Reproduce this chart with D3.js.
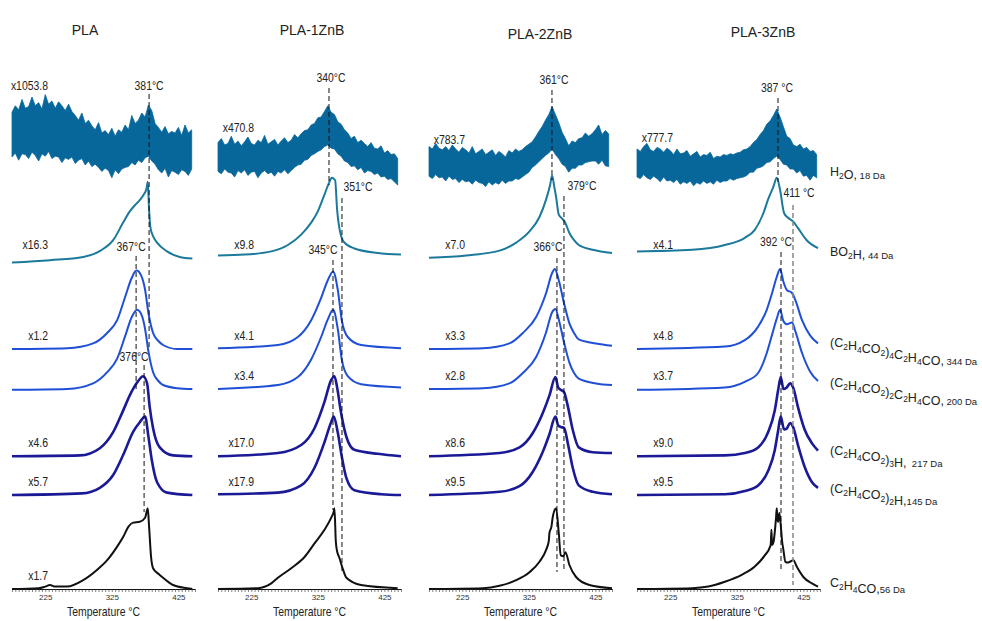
<!DOCTYPE html>
<html>
<head>
<meta charset="utf-8">
<script src="https://cdn.jsdelivr.net/npm/d3@7/dist/d3.min.js"></script>
<style>
body { margin: 0; background: #fff; }
svg { display: block; font-family: "Liberation Sans", Arial, sans-serif; }
</style>
</head>
<body>
<div class="chart"></div>
<script>
// ---- data ----
const panelNames = ["PLA", "PLA-1ZnB", "PLA-2ZnB", "PLA-3ZnB"];

// H2O is a noisy trace: min / max envelope (in % of peak height) on a 5 °C grid
const tempGrid = [175,180,185,190,195,200,205,210,215,220,225,230,235,240,245,250,255,260,265,270,275,280,285,290,295,300,305,310,315,320,325,330,335,340,345,350,355,360,365,370,375,380,385,390,395,400,405,410,415,420,425,430,435,440,445];
const h2oTop = [
  [96,104,99,112,101,103,115,104,108,100,118,106,110,101,109,104,98,106,97,92,86,95,82,86,79,74,83,70,73,68,76,66,74,71,80,74,92,82,86,95,90,105,98,82,77,71,78,69,72,70,77,67,80,70,74],
  [58,63,55,57,66,56,60,54,59,65,57,55,61,58,67,56,59,62,55,60,64,58,61,68,64,69,73,74,80,82,89,90,97,104,96,93,84,81,74,70,63,66,58,61,57,53,58,51,50,54,45,48,43,44,38],
  [53,50,57,51,49,53,48,55,50,46,52,49,45,53,44,47,50,43,46,49,42,47,44,40,48,45,50,47,49,53,56,59,65,72,78,86,93,103,93,83,71,63,54,60,58,63,64,70,66,69,74,80,68,73,69],
  [50,47,53,57,49,47,52,50,46,51,48,43,50,44,45,48,41,44,47,40,43,42,46,38,41,40,43,42,44,43,45,46,49,50,53,58,62,68,73,81,85,92,100,90,78,66,63,55,53,56,50,52,47,48,43]
];
const h2oBottom = [
  [40,45,36,44,43,38,46,42,35,44,41,47,38,41,40,33,39,37,40,32,36,38,30,35,28,31,27,22,26,23,14,24,19,25,27,28,33,30,36,33,39,41,35,31,24,20,26,15,23,21,18,24,22,17,25],
  [22,19,25,21,20,15,23,20,24,17,21,22,14,20,23,19,21,16,22,20,24,19,23,27,30,31,36,37,42,44,47,49,53,55,51,50,44,41,35,33,28,29,24,27,20,23,22,18,20,15,16,12,13,9,5],
  [16,13,18,14,15,10,16,12,13,8,12,9,10,6,11,8,7,3,9,5,8,6,11,7,10,10,13,12,15,18,21,27,30,34,38,42,45,50,43,38,31,28,21,26,26,30,30,33,34,35,35,31,36,29,28],
  [15,13,18,14,12,16,13,9,15,10,11,8,12,6,9,7,10,4,8,6,10,7,9,6,11,8,10,10,13,11,13,14,15,17,21,21,26,27,29,33,34,38,41,37,31,30,25,25,20,23,16,17,11,17,14]
];

// smooth traces: [temperature °C, normalised intensity]
const bo2h = [
  [[175,-0.06],[232,-0.03],[282,0.01],[308,0.09],[327,0.22],[342,0.44],[352,0.58],[360,0.66],[367,0.72],[373,0.79],[377,0.86],[379,0.95],[381,0.6],[383,0.38],[387,0.27],[393,0.19],[408,0.08],[427,0.01],[446,-0.01]],
  [[175,0.03],[215,0.04],[255,0.08],[280,0.16],[300,0.29],[315,0.44],[325,0.58],[335,0.79],[342,0.94],[346,1.0],[351,0.97],[354,0.6],[357,0.39],[364,0.2],[379,0.12],[415,0.06],[450,0.04]],
  [[175,0],[231,0.03],[281,0.09],[306,0.19],[326,0.33],[341,0.51],[351,0.73],[357,0.91],[360,1.03],[363,0.9],[366,0.76],[370,0.54],[374,0.5],[379,0.45],[386,0.31],[393,0.22],[400,0.16],[421,0.1],[450,0.06]],
  [[175,0.08],[258,0.1],[307,0.16],[337,0.25],[352,0.35],[365,0.56],[372,0.73],[380,0.89],[385,1.0],[390,0.85],[396,0.56],[402,0.5],[410,0.45],[417,0.37],[430,0.22],[447,0.12]]
];
const m344 = [
  [[175,0],[258,0.01],[297,0.07],[318,0.2],[333,0.36],[345,0.65],[355,0.89],[362,0.98],[369,0.92],[375,0.74],[380,0.45],[387,0.2],[395,0.1],[402,0.05],[423,0],[446,0]],
  [[175,0.01],[265,0.05],[295,0.15],[315,0.36],[330,0.64],[340,0.86],[348,0.97],[355,0.74],[361,0.36],[370,0.15],[390,0.05],[450,0.01]],
  [[175,0],[256,0.01],[296,0.07],[316,0.2],[336,0.4],[351,0.7],[360,0.95],[364,1.0],[370,0.86],[378,0.57],[386,0.32],[393,0.2],[400,0.12],[426,0.07],[450,0.04]],
  [[175,0],[307,0.03],[337,0.11],[357,0.28],[370,0.49],[378,0.7],[385,0.9],[390,1.0],[395,0.84],[400,0.74],[408,0.7],[413,0.61],[423,0.36],[435,0.17],[447,0.07]]
];
const m200 = [
  [[175,-0.01],[258,0],[297,0.07],[318,0.21],[333,0.38],[345,0.66],[355,0.9],[363,0.99],[370,0.92],[375,0.75],[380,0.47],[387,0.21],[395,0.1],[402,0.05],[423,0.01],[446,0]],
  [[175,0],[265,0.05],[295,0.15],[315,0.37],[330,0.65],[340,0.87],[348,0.99],[355,0.75],[361,0.37],[370,0.16],[390,0.06],[450,0.02]],
  [[175,0],[256,0.01],[296,0.07],[316,0.2],[336,0.4],[351,0.71],[360,0.96],[365,1.0],[370,0.87],[378,0.58],[386,0.33],[393,0.2],[400,0.13],[426,0.07],[450,0.05]],
  [[175,-0.01],[307,0.02],[337,0.09],[357,0.2],[370,0.45],[378,0.68],[385,0.88],[390,0.99],[395,0.85],[400,0.81],[408,0.83],[413,0.72],[423,0.45],[435,0.22],[447,0.1]]
];
const m217 = [
  [[175,0],[277,0.01],[307,0.1],[327,0.3],[342,0.57],[352,0.76],[363,0.92],[372,1.0],[378,0.91],[382,0.61],[387,0.35],[397,0.11],[417,0.01],[446,0]],
  [[175,0],[265,0.04],[300,0.14],[320,0.35],[335,0.68],[345,0.95],[350,1.0],[354,0.86],[360,0.54],[368,0.24],[380,0.08],[415,0.03],[450,0]],
  [[175,0],[281,0.04],[311,0.11],[331,0.29],[346,0.54],[356,0.76],[365,0.99],[369,0.86],[373,0.83],[378,0.8],[384,0.61],[391,0.33],[400,0.11],[421,0.05],[450,0.04]],
  [[175,0],[307,0.01],[337,0.04],[357,0.11],[372,0.3],[382,0.57],[387,0.82],[391,0.99],[395,0.84],[400,0.86],[405,0.91],[410,0.85],[417,0.61],[427,0.33],[438,0.16],[447,0.07]]
];
const m145 = [
  [[175,0],[280,0.02],[307,0.09],[327,0.25],[342,0.5],[357,0.79],[367,0.91],[375,0.98],[380,0.73],[385,0.44],[393,0.16],[408,0.03],[446,0]],
  [[175,0.01],[265,0.03],[300,0.12],[320,0.34],[335,0.66],[345,0.91],[349,0.98],[355,0.78],[361,0.48],[368,0.21],[380,0.06],[420,0.01],[450,0]],
  [[175,0],[281,0.04],[311,0.11],[331,0.29],[346,0.54],[356,0.76],[365,0.98],[369,0.87],[373,0.85],[378,0.84],[384,0.63],[391,0.34],[400,0.12],[421,0.04],[450,0.01]],
  [[175,0],[307,0.01],[337,0.05],[357,0.12],[372,0.3],[382,0.56],[387,0.8],[391,0.98],[396,0.82],[400,0.83],[405,0.9],[410,0.84],[417,0.62],[427,0.35],[438,0.16],[447,0.09]]
];
const m56 = [
  [[175,0],[215,0.01],[225,0.03],[232,0.05],[240,0.03],[258,0.03],[282,0.11],[303,0.24],[318,0.36],[333,0.53],[342,0.65],[350,0.78],[357,0.83],[367,0.84],[375,0.89],[379,1.01],[381,0.78],[384,0.4],[387,0.26],[395,0.19],[402,0.14],[417,0.05],[438,0.01],[446,0]],
  [[175,0],[235,0.01],[255,0.07],[265,0.14],[285,0.26],[305,0.4],[320,0.57],[335,0.74],[345,0.89],[349,0.97],[350,1.01],[352,0.6],[354,0.47],[357,0.4],[363,0.24],[368,0.14],[390,0.05],[445,0.01]],
  [[175,0],[256,0.01],[281,0.04],[306,0.11],[326,0.21],[341,0.34],[351,0.49],[355,0.6],[356,0.7],[359,0.78],[361,0.9],[366,1.01],[370,0.7],[373,0.42],[377,0.41],[380,0.46],[386,0.3],[396,0.15],[416,0.05],[450,0.01]],
  [[175,0],[258,0.01],[282,0.03],[307,0.09],[333,0.18],[352,0.28],[367,0.42],[375,0.53],[376,0.56],[377,0.74],[378,0.55],[380,0.58],[383,0.8],[384,0.9],[385,1.01],[386,0.88],[387,0.84],[389,0.95],[391,0.8],[393,0.6],[395,0.49],[398,0.34],[402,0.33],[407,0.35],[410,0.36],[415,0.28],[425,0.15],[438,0.07],[447,0.03]]
];

// scaling factors written beside each trace
const multH2O = ["x1053.8", "x470.8", "x783.7", "x777.7"];
const multBO2H = ["x16.3", "x9.8", "x7.0", "x4.1"];
const mult344 = ["x1.2", "x4.1", "x3.3", "x4.8"];
const mult200 = ["", "x3.4", "x2.8", "x3.7"];
const mult217 = ["x4.6", "x17.0", "x8.6", "x9.0"];
const mult145 = ["x5.7", "x17.9", "x9.5", "x9.5"];
const mult56 = ["x1.7", "", "", ""];

// peak markers (position on the temperature axis, printed label)
const peakT = [[381, 361.5, 373.5], [341.8, 361.3, 347.8], [359.8, 377.8, 367.3], [386.9, 409.4, 391.4]];
const peakLabel = [["381°C", "367°C", "376°C"], ["340°C", "351°C", "345°C"], ["361°C", "379°C", "366°C"], ["387 °C", "411 °C", "392 °C"]];

const speciesName = ["H{2}O,", "BO{2}H,", "(C{2}H{4}CO{2}){4}C{2}H{4}CO,", "(C{2}H{4}CO{2}){2}C{2}H{4}CO,", "(C{2}H{4}CO{2}){3}H,", "(C{2}H{4}CO{2}){2}H,", "C{2}H{4}CO,"];
const speciesMass = [" 18 Da", " 44 Da", " 344 Da", " 200 Da", "  217 Da", "145 Da", "56 Da"];

const tickTemps = [225, 325, 425];

// ---- layout ----
const W = 982, H = 621;
const panelLeft = [12, 218, 429, 637], panelW = 183;
const baseY = 589, unit = 80;
const offsets = [5.0, 4.14, 3.0, 2.5, 1.66, 1.175, 0];
const colors = ["#07679b", "#1b7a9b", "#1f4fd6", "#1f4fd6", "#1b1a96", "#1b1a96", "#111111"];
const widths = [1, 2, 2, 2, 2.6, 2.6, 2];
const titlePos = [[85, 30], [312, 30], [540, 34], [763, 32]];
const h2oLabelY = [86, 128, 140, 138];
// label dx, label y, line top, line bottom
const markerLayout = [
  [[0, 86, 94, 350], [-5, 247, 256, 392], [-10, 357, 365, 512]],
  [[2, 78, 88, 185], [16, 187, 198, 572], [-10, 250, 260, 510]],
  [[2, 80, 90, 180], [18, 186, 196, 572], [-9, 247, 258, 572]],
  [[-1, 88, 98, 182], [6, 193, 205, 585], [-5, 242, 252, 572]]
];

const svg = d3.select(".chart").append("svg").attr("width", W).attr("height", H);
const y = d3.scaleLinear().domain([0, 7]).range([baseY, baseY - 7 * unit]);

function ctext(g, x, yy, str, size, anchor) {
  return g.append("text")
    .attr("transform", "translate(" + x + "," + yy + ") scale(0.87,1)")
    .attr("text-anchor", anchor)
    .attr("dy", "0.35em")
    .attr("font-size", size)
    .attr("fill", "#222")
    .text(str);
}

const series = [bo2h, m344, m200, m217, m145, m56];
const mults = [multH2O, multBO2H, mult344, mult200, mult217, mult145, mult56];

panelNames.forEach((name, p) => {
  const x = d3.scaleLinear().domain([175, 450]).range([panelLeft[p], panelLeft[p] + panelW]);
  const g = svg.append("g");

  g.append("text")
    .attr("x", titlePos[p][0]).attr("y", titlePos[p][1])
    .attr("dy", "0.35em").attr("text-anchor", "middle")
    .attr("font-size", 14).attr("fill", "#222")
    .text(name);

  // H2O envelope
  const band = tempGrid.map((t, i) => ({ t: t, hi: h2oTop[p][i] / 100, lo: h2oBottom[p][i] / 100 }));
  g.append("path")
    .datum(band)
    .attr("d", d3.area().x(d => x(d.t)).y0(d => y(offsets[0] + d.lo)).y1(d => y(offsets[0] + d.hi)))
    .attr("fill", colors[0])
    .attr("stroke", colors[0])
    .attr("stroke-width", 0.8);

  series.forEach((s, k) => {
    const line = d3.line()
      .x(d => x(d[0]))
      .y(d => y(offsets[k + 1] + d[1]))
      .curve(d3.curveMonotoneX);
    g.append("path")
      .datum(s[p])
      .attr("d", line)
      .attr("fill", "none")
      .attr("stroke", colors[k + 1])
      .attr("stroke-width", widths[k + 1])
      .attr("stroke-linejoin", "round");
  });

  // multiplier labels
  mults.forEach((m, k) => {
    if (!m[p]) return;
    const yy = k === 0 ? h2oLabelY[p] : y(offsets[k]) - 13;
    ctext(g, panelLeft[p] + 36, yy, m[p], 12, "end");
  });

  // dashed peak markers
  peakT[p].forEach((t, j) => {
    const L = markerLayout[p][j];
    const gray = (p === 3 && j === 1);
    g.append("line")
      .attr("x1", x(t)).attr("x2", x(t))
      .attr("y1", L[2]).attr("y2", L[3])
      .attr("stroke", gray ? "#8a8a8a" : "#111")
      .attr("stroke-width", gray ? 1.5 : 1)
      .attr("stroke-dasharray", "5,3");
    ctext(g, x(t) + L[0], L[1], peakLabel[p][j], 12, "middle");
  });

  // axis
  const axis = d3.axisBottom(x)
    .tickValues(d3.range(175, 451, 5))
    .tickSize(3)
    .tickSizeOuter(0)
    .tickFormat(d => tickTemps.includes(d) ? d : "");
  const ax = g.append("g")
    .attr("transform", "translate(0," + baseY + ")")
    .call(axis);
  ax.select(".domain").attr("stroke", "#111").attr("stroke-width", 1.2);
  ax.selectAll(".tick line").attr("stroke", "#333").attr("stroke-width", 0.6);
  ax.selectAll(".tick text").attr("font-size", 8).attr("font-family", "Liberation Sans, Arial, sans-serif").attr("fill", "#333").attr("y", 5);
  ctext(g, panelLeft[p] + panelW / 2, 612, "Temperature °C", 12, "middle");
});

// species labels on the right
speciesName.forEach((s, k) => {
  const yy = k === 0 ? 172 : y(offsets[k]) - 6;
  const t = svg.append("text").attr("x", 830).attr("y", yy).attr("dy", "0.35em")
    .attr("font-size", 12.5).attr("fill", "#222");
  s.split(/(\{\d+\})/).filter(d => d).forEach(part => {
    if (part[0] === "{") {
      t.append("tspan").attr("font-size", 8.5).attr("dy", 3).text(part.slice(1, -1));
      t.append("tspan").attr("dy", -3).text("");
    } else {
      t.append("tspan").text(part);
    }
  });
  t.append("tspan").attr("font-size", 9.5).attr("xml:space", "preserve").text(speciesMass[k]);
});
</script>
</body>
</html>
